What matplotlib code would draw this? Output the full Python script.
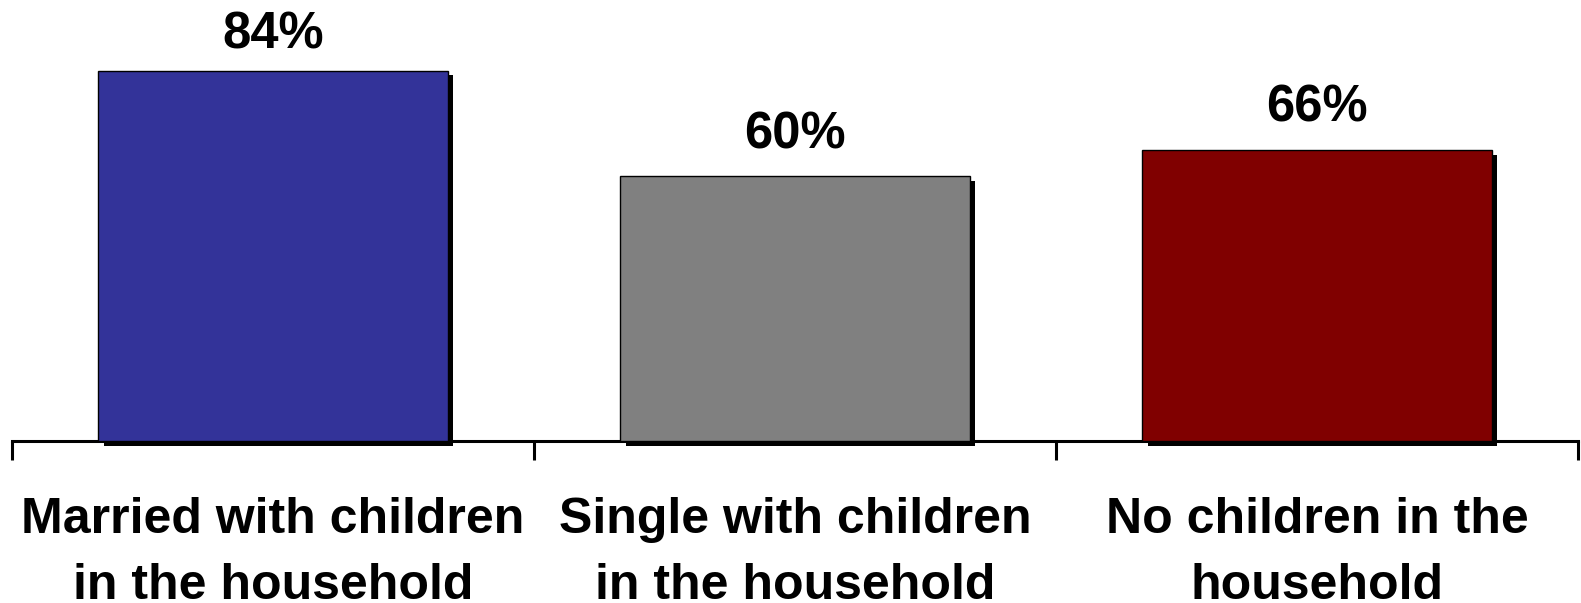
import matplotlib.pyplot as plt
import matplotlib.patheffects as pe
import numpy as np

plt.rcParams['font.family'] = ['Liberation Sans', 'DejaVu Sans']

categories = ["Married with children\nin the household",
              "Single with children\nin the household",
              "No children in the\nhousehold"]
values = [84, 60, 66]
colors = ["#333399", "#808080", "#800000"]

fig = plt.figure(figsize=(15.81, 6.03), dpi=100)
ax = fig.add_axes([12 / 1581, 162 / 603, 1566 / 1581, 441 / 603])

x = np.arange(len(categories))
bars = ax.bar(x, values, width=0.67, color=colors, edgecolor="black",
              linewidth=1.0, zorder=3)
for b in bars:
    b.set_clip_on(False)
    b.set_path_effects([
        pe.SimplePatchShadow(offset=(4, -3.5), shadow_rgbFace="black", alpha=1.0),
        pe.Normal(),
    ])

# value labels sit above bars, pushed down a bit when near the top
for xi, v in zip(x, values):
    ax.text(xi, min(v + 6.4, 89), f"{v}%", ha="center", va="baseline",
            fontsize=36.5, fontweight="bold")

ax.set_xlim(-0.5, len(categories) - 0.5)
ax.set_ylim(0, 100)

for s in ["top", "right", "left"]:
    ax.spines[s].set_visible(False)
ax.spines["bottom"].set_linewidth(2.2)
ax.spines["bottom"].set_zorder(2)
ax.set_yticks([])

ax.set_xticks(np.arange(len(categories) + 1) - 0.5)
ax.set_xticklabels([])
ax.tick_params(axis="x", which="major", length=14, width=2.2, direction="out")
ax.set_xticks(x, minor=True)
ax.set_xticklabels(categories, minor=True, fontsize=36, fontweight="bold",
                   linespacing=1.58)
ax.tick_params(axis="x", which="minor", length=0, pad=40)

fig.savefig("out.png", dpi=100)
